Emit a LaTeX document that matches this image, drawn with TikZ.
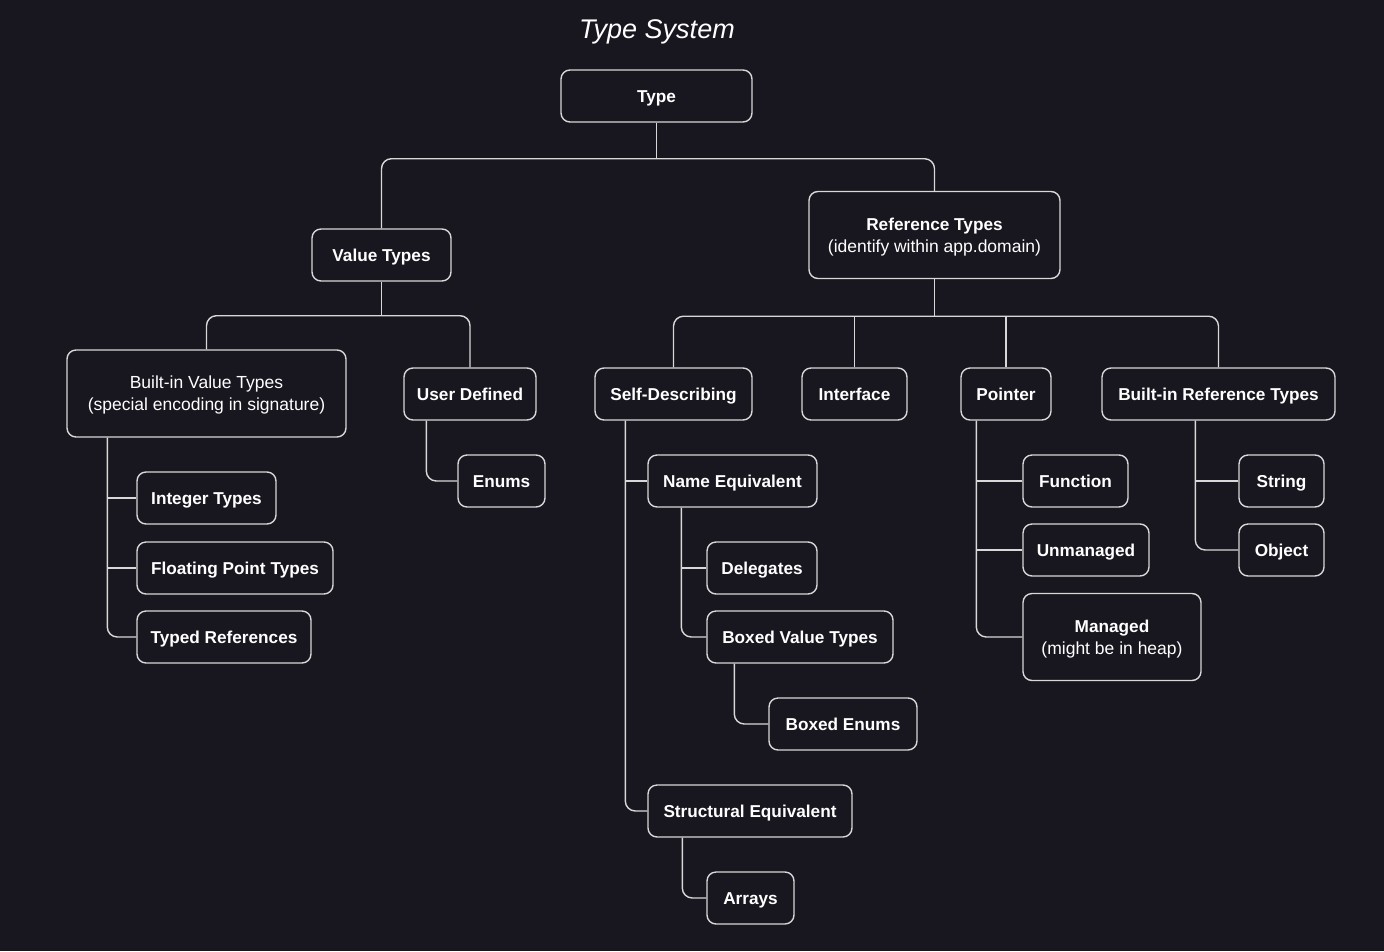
\documentclass[tikz,border=0pt]{standalone}
\usepackage{fontspec}
\setmainfont{Liberation Sans}
\usetikzlibrary{calc}
\definecolor{bgc}{HTML}{18161E}
\definecolor{linec}{HTML}{D8D8D8}
\newcommand{\rg}[1]{{\fontsize{17.5}{22}\selectfont\mdseries #1}}
\newcommand{\topstrut}{\rule{0pt}{16.5pt}}
\begin{document}
\begin{tikzpicture}[x=1pt,y=-1pt,
  box/.style={draw=linec, line width=1.4pt, rounded corners=9pt, fill=bgc, text=white,
    inner sep=0pt, align=center, minimum height=52pt,
    font=\fontsize{17.2}{22}\selectfont\bfseries,
    execute at begin node={\rule[-3.6pt]{0pt}{19.6pt}}},
  tall/.style={minimum height=87pt},
  conn/.style={draw=linec, line width=1.4pt, rounded corners=10pt}]
\fill[bgc] (0,0) rectangle (1384,951);
\useasboundingbox (0,0) rectangle (1384,951);
\node[text=white, font=\fontsize{27}{32}\selectfont\itshape] (title) at (657,32) {Type System};
% level 0
\node[box, minimum width=191pt] (type) at (656.5,96) {Type};
% level 1
\node[box, minimum width=139pt] (vt) at (381.5,255) {Value Types};
\node[box, tall, minimum width=251pt] (rt) at (934.5,235) {\topstrut Reference Types\\\rg{(identify within app.domain)}};
% level 2
\node[box, tall, minimum width=279pt] (bvt) at (206.5,393.5) {\topstrut\rg{Built-in Value Types}\\\rg{(special encoding in signature)}};
\node[box, minimum width=132pt] (ud) at (470,394) {User Defined};
\node[box, minimum width=157pt] (sd) at (673.5,394) {Self-Describing};
\node[box, minimum width=105pt] (if) at (854.5,394) {Interface};
\node[box, minimum width=90pt] (ptr) at (1006,394) {Pointer};
\node[box, minimum width=233pt] (brt) at (1218.5,394) {Built-in Reference Types};
% leaves
\node[box, minimum width=139pt] (it) at (206.5,498) {Integer Types};
\node[box, minimum width=196pt] (fp) at (235,568) {Floating Point Types};
\node[box, minimum width=174pt] (tr) at (224,637) {Typed References};
\node[box, minimum width=87pt] (en) at (501.5,481) {Enums};
\node[box, minimum width=169pt] (ne) at (732.5,481) {Name Equivalent};
\node[box, minimum width=110pt] (dl) at (762,568) {Delegates};
\node[box, minimum width=186pt] (bxv) at (800,637) {Boxed Value Types};
\node[box, minimum width=148pt] (bxe) at (843,724) {Boxed Enums};
\node[box, minimum width=204pt] (se) at (750,811) {Structural Equivalent};
\node[box, minimum width=87pt] (ar) at (750.5,898) {Arrays};
\node[box, minimum width=105pt] (fn) at (1075.5,481) {Function};
\node[box, minimum width=126pt] (um) at (1086,550) {Unmanaged};
\node[box, tall, minimum width=178pt] (mg) at (1112,637) {\topstrut Managed\\\rg{(might be in heap)}};
\node[box, minimum width=85pt] (str) at (1281.5,481) {String};
\node[box, minimum width=85pt] (obj) at (1281.5,550) {Object};
% buses
\coordinate (b1) at ($(type.south)+(0,36)$);
\draw[conn] (type.south) -- (b1);
\draw[conn] (vt.north) |- (b1) -| (rt.north);
\coordinate (b2) at ($(vt.south)+(0,34)$);
\draw[conn] (vt.south) -- (b2);
\draw[conn] (bvt.north) |- (b2) -| (ud.north);
\coordinate (b3) at ($(rt.south)+(0,37)$);
\draw[conn] (rt.south) -- (b3);
\draw[conn] (sd.north) |- (b3) -| (brt.north);
\draw[conn] (if.north) -- (if.north |- b3);
\draw[conn] (ptr.north) -- (ptr.north |- b3);
% spines
\coordinate (s1) at ([xshift=41pt]bvt.south west);
\draw[conn] (s1) |- (tr.west);
\draw[conn] (it.west) -- (it.west -| s1);
\draw[conn] (fp.west) -- (fp.west -| s1);
\coordinate (s2) at ([xshift=23pt]ud.south west);
\draw[conn] (s2) |- (en.west);
\coordinate (s3) at ([xshift=31pt]sd.south west);
\draw[conn] (s3) |- (se.west);
\draw[conn] (ne.west) -- (ne.west -| s3);
\coordinate (s4) at ([xshift=34pt]ne.south west);
\draw[conn] (s4) |- (bxv.west);
\draw[conn] (dl.west) -- (dl.west -| s4);
\coordinate (s5) at ([xshift=28pt]bxv.south west);
\draw[conn] (s5) |- (bxe.west);
\coordinate (s6) at ([xshift=35pt]se.south west);
\draw[conn] (s6) |- (ar.west);
\coordinate (s7) at ([xshift=16pt]ptr.south west);
\draw[conn] (s7) |- (mg.west);
\draw[conn] (fn.west) -- (fn.west -| s7);
\draw[conn] (um.west) -- (um.west -| s7);
\coordinate (s8) at ([xshift=94pt]brt.south west);
\draw[conn] (s8) |- (obj.west);
\draw[conn] (str.west) -- (str.west -| s8);
\end{tikzpicture}
\end{document}
